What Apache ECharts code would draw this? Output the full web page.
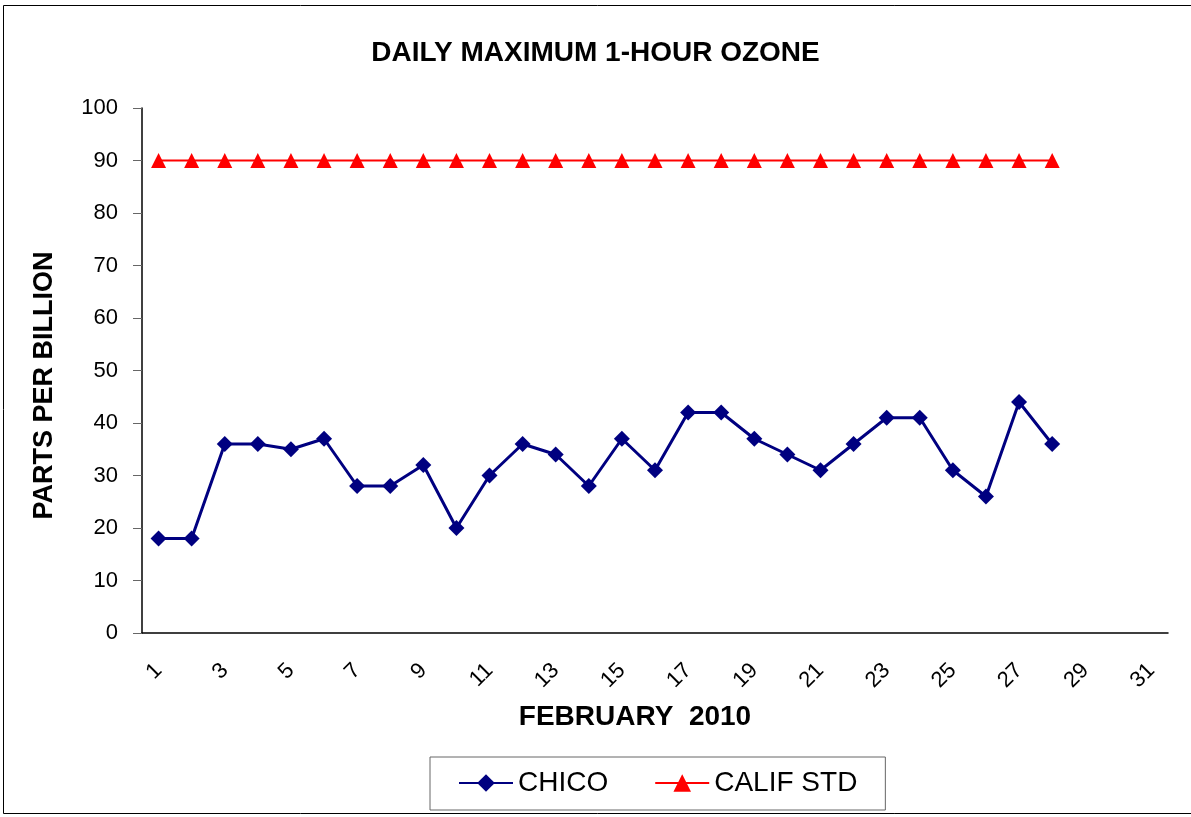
<!DOCTYPE html>
<html>
<head>
<meta charset="utf-8">
<script src="https://cdn.jsdelivr.net/npm/echarts@6/dist/echarts.min.js"></script>
<style>
html, body { margin: 0; padding: 0; background: #fff; }
#main { width: 1191px; height: 817px; }
</style>
</head>
<body>
<div id="main"></div>
<script>
// days of february, axis goes to 31
var days = [];
for (var d = 1; d <= 31; d++) days.push(String(d));

// daily max 1-hour ozone, ppb
var chico = [18, 18, 36, 36, 35, 37, 28, 28, 32, 20, 30, 36, 34, 28, 37, 31, 42, 42, 37, 34, 31, 36, 41, 41, 31, 26, 44, 36];
// state standard
var califStd = [90, 90, 90, 90, 90, 90, 90, 90, 90, 90, 90, 90, 90, 90, 90, 90, 90, 90, 90, 90, 90, 90, 90, 90, 90, 90, 90, 90];

var myChart = echarts.init(document.getElementById('main'));

var option = {
	backgroundColor: '#fff',
	animation: false,
	textStyle: { fontFamily: 'Liberation Sans, Arial, sans-serif', color: '#000' },
	title: {
		text: 'DAILY MAXIMUM 1-HOUR OZONE',
		left: 'center',
		top: 34,
		textStyle: { fontSize: 28, fontWeight: 'bold', color: '#000' }
	},
	graphic: [{
		type: 'rect',
		shape: { x: 3.5, y: 5.5, width: 1200, height: 808 },
		style: { fill: 'none', stroke: '#000', lineWidth: 1 },
		silent: true
	}],
	legend: {
		left: 430,
		top: 757,
		padding: [12, 28, 13, 28],
		itemGap: 46,
		itemWidth: 54,
		itemHeight: 22,
		borderColor: '#666',
		borderWidth: 1,
		textStyle: { fontSize: 28, color: '#000' },
		data: ['CHICO', 'CALIF STD']
	},
	grid: {
		left: 142,
		right: 23,
		top: 108,
		bottom: 184
	},
	xAxis: {
		type: 'category',
		data: days,
		boundaryGap: true,
		name: 'FEBRUARY  2010',
		nameLocation: 'middle',
		nameGap: 70,
		nameTextStyle: { fontSize: 28, fontWeight: 'bold', color: '#000', padding: [0, 40, 0, 0] },
		axisLine: { lineStyle: { color: '#000', width: 1.5 } },
		axisTick: { interval: 0, length: 7, lineStyle: { color: '#888' } },
		axisLabel: { interval: 1, rotate: 45, margin: 34, fontSize: 22, color: '#000' }
	},
	yAxis: {
		type: 'value',
		min: 0,
		max: 100,
		interval: 10,
		name: 'PARTS PER BILLION',
		nameLocation: 'middle',
		nameGap: 84,
		nameTextStyle: { fontSize: 27, fontWeight: 'bold', color: '#000', padding: [0, 30, 0, 0] },
		splitLine: { show: false },
		axisLine: { show: true, lineStyle: { color: '#000', width: 1.5 } },
		axisTick: { show: true, length: 9, lineStyle: { color: '#666' } },
		axisLabel: { fontSize: 22, color: '#000', margin: 24 }
	},
	series: [
		{
			name: 'CHICO',
			type: 'line',
			data: chico,
			symbol: 'diamond',
			symbolSize: 16,
			itemStyle: { color: '#000080' },
			lineStyle: { color: '#000080', width: 3 }
		},
		{
			name: 'CALIF STD',
			type: 'line',
			data: califStd,
			symbol: 'triangle',
			symbolSize: 15,
			itemStyle: { color: '#ff0000' },
			lineStyle: { color: '#ff0000', width: 2 }
		}
	]
};

myChart.setOption(option);
</script>
</body>
</html>
